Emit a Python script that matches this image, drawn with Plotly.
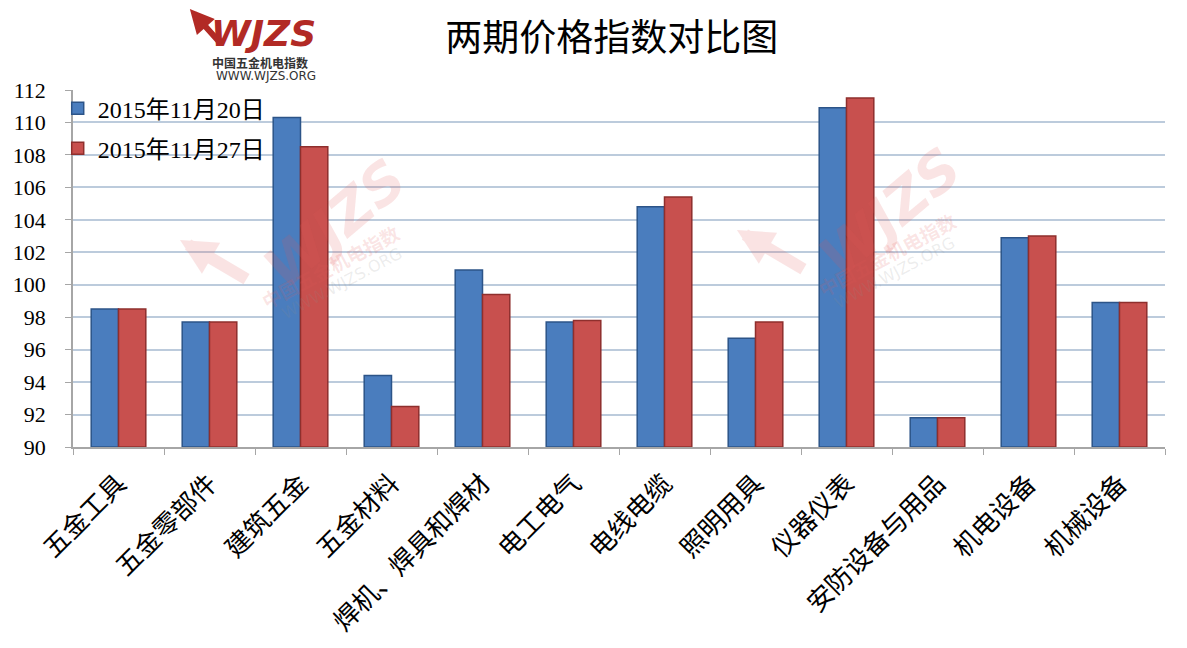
import plotly.graph_objects as go

categories = ["五金工具", "五金零部件", "建筑五金", "五金材料", "焊机、焊具和焊材", "电工电气",
              "电线电缆", "照明用具", "仪器仪表", "安防设备与用品", "机电设备", "机械设备"]
series_names = ["2015年11月20日", "2015年11月27日"]
values_1120 = [98.5, 97.7, 110.3, 94.4, 100.9, 97.7, 104.8, 96.7, 110.9, 91.8, 102.9, 98.9]
values_1127 = [98.5, 97.7, 108.5, 92.5, 99.4, 97.8, 105.4, 97.7, 111.5, 91.8, 103.0, 98.9]
y_ticks = list(range(90, 113, 2))

colors = ["#4A7DBE", "#C8504E"]
edges = ["#2C5488", "#8E2F2D"]

W, H = 1179, 640
L, R, T, B = 65, 22, 82, 201

fig = go.Figure()
for i, (name, vals, c, e) in enumerate(zip(series_names, [values_1120, values_1127], colors, edges)):
    fig.add_trace(go.Bar(
        x=categories, y=[v - 90 for v in vals], base=90, name=name, legendgroup=f"g{i}",
        marker=dict(color=c, line=dict(color=e, width=1.5)),
    ))

fig.update_layout(
    width=W, height=H,
    paper_bgcolor="white", plot_bgcolor="white",
    margin=dict(l=L, r=R, t=T, b=B, autoexpand=False),
    barmode="group", bargap=0.4, bargroupgap=0.0,
    title=dict(text="两期价格指数对比图", x=0.512, xanchor="center", y=0.953, yanchor="middle",
               font=dict(family="Noto Sans CJK SC", size=37, color="black")),
    legend=dict(x=-0.014, y=1.011, xanchor="left", yanchor="top", bgcolor="rgba(255,255,255,0)",
                font=dict(family="Liberation Serif, Noto Sans CJK SC", size=24, color="black"),
                itemwidth=30, traceorder="grouped", tracegroupgap=6),
    font=dict(family="Liberation Serif, Noto Sans CJK SC", color="black"),
    showlegend=True,
)
fig.update_yaxes(range=[90, 112], tickvals=y_ticks, showgrid=True, gridcolor="#BCCBDC", gridwidth=1.6,
                 showline=True, linecolor="#A6A6A6", linewidth=1.5, ticks="outside", ticklen=6,
                 tickcolor="#A6A6A6", ticklabelstandoff=15, automargin=False,
                 tickfont=dict(family="Liberation Serif", size=22, color="black"),
                 zeroline=False)
fig.update_xaxes(showline=True, linecolor="#A6A6A6", linewidth=2, ticks="outside", ticklen=6,
                 tickcolor="#A6A6A6", tickson="boundaries", tickangle=-45, ticklabelstandoff=9,
                 automargin=False,
                 tickfont=dict(family="Noto Sans CJK SC", size=26, color="black"))

LOGO_RED = "#B22A25"
# Logo at top-left
fig.add_annotation(xref="paper", yref="paper", x=0.107, y=1.25, ax=32, ay=44, text="",
                   showarrow=True, arrowhead=2, arrowsize=0.8, arrowwidth=6, arrowcolor=LOGO_RED)
fig.add_annotation(xref="paper", yref="paper", x=0.174, y=1.157, xanchor="center", yanchor="middle",
                   text="<b><i>WJZS</i></b>", showarrow=False,
                   font=dict(family="DejaVu Sans", size=36, color=LOGO_RED))
fig.add_annotation(xref="paper", yref="paper", x=0.171, y=1.078, xanchor="center", yanchor="middle",
                   text="<b>中国五金机电指数</b>", showarrow=False,
                   font=dict(family="Noto Sans CJK SC", size=12, color="#333333"))
fig.add_annotation(xref="paper", yref="paper", x=0.177, y=1.039, xanchor="center", yanchor="middle",
                   text="WWW.WJZS.ORG", showarrow=False,
                   font=dict(family="DejaVu Sans", size=12, color="#333333"))

# Faint watermarks inside the plot
WM_RED = "rgba(225,90,90,0.16)"
WM_GREY = "rgba(140,140,140,0.16)"
for (ax_, ay_), (wx, wy), (cx, cy), (gx, gy) in [
    ((0.098, 0.580), (0.240, 0.627), (0.235, 0.507), (0.246, 0.459)),
    ((0.608, 0.608), (0.748, 0.658), (0.745, 0.538), (0.753, 0.488)),
]:
    fig.add_annotation(xref="paper", yref="paper", x=ax_, y=ay_, ax=68, ay=40, text="",
                       showarrow=True, arrowhead=2, arrowsize=0.6, arrowwidth=12, arrowcolor=WM_RED)
    fig.add_annotation(xref="paper", yref="paper", x=wx, y=wy, xanchor="center", yanchor="middle",
                       text="<b><i>WJZS</i></b>", textangle=-40, showarrow=False,
                       font=dict(family="DejaVu Sans", size=56, color=WM_RED))
    fig.add_annotation(xref="paper", yref="paper", x=cx, y=cy, xanchor="center", yanchor="middle",
                       text="<b>中国五金机电指数</b>", textangle=-28, showarrow=False,
                       font=dict(family="Noto Sans CJK SC", size=19, color=WM_RED))
    fig.add_annotation(xref="paper", yref="paper", x=gx, y=gy, xanchor="center", yanchor="middle",
                       text="WWW.WJZS.ORG", textangle=-28, showarrow=False,
                       font=dict(family="DejaVu Sans", size=16, color=WM_GREY))

fig.write_html("out.html")
